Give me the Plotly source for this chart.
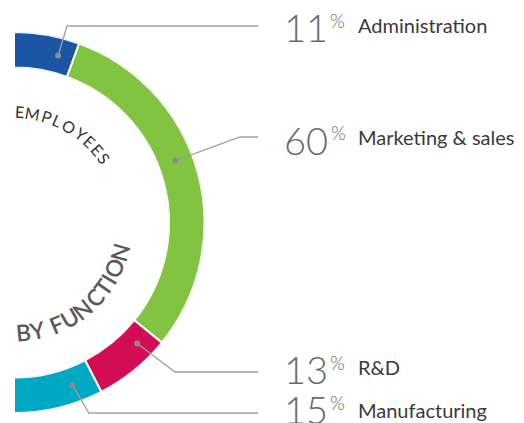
import numpy as np
import plotly.graph_objects as go

# data
functions = ['Administration', 'Marketing & sales', 'R&D', 'Manufacturing']
shares = [11, 60, 13, 15]
colors = ['#1b55a4', '#82c341', '#d30d55', '#00a8c3']

# the page puts the figure 8px in from the corner, so work in page pixels
OFF = 8
W, H = 524 - OFF, 423 - OFF
CX, CY = 14, 222.5        # ring centre in page pixels
R_OUT, R_IN = 190.5, 155


def px(x):
    return (x - OFF) / W


def py(y):
    return 1 - (y - OFF) / H


def on_ring(theta, r):
    t = np.radians(theta)
    return CX + r * np.sin(t), CY - r * np.cos(t)


# half ring: the shares are spread over 180 degrees, clockwise from 12 o'clock
vals = np.array(shares, dtype=float)
spans = vals / vals.sum() * 180
starts = np.concatenate([[0], np.cumsum(spans)[:-1]])
mids = starts + spans / 2

fig = go.Figure()
fig.add_trace(go.Barpolar(
    r=[1] * len(shares), theta=mids, width=spans,
    marker=dict(color=colors, line=dict(color='white', width=2)),
    hoverinfo='skip', showlegend=False,
))

fig.update_layout(
    width=W, height=H,
    margin=dict(l=0, r=0, t=0, b=0),
    paper_bgcolor='white',
    polar=dict(
        domain=dict(x=[px(CX), px(CX + R_OUT)], y=[py(CY + R_OUT), py(CY - R_OUT)]),
        sector=[-90, 90],
        hole=R_IN / R_OUT,
        bgcolor='rgba(0,0,0,0)',
        radialaxis=dict(range=[0, 1], visible=False),
        angularaxis=dict(rotation=90, direction='clockwise', visible=False),
    ),
)

# leader lines, dots and labels
anchor_theta = [14.8, 69, 134.5, 160.3]
elbows = [(67, 26), (240, 137), (175, 372), (89, 413)]
line_end = 258
num_y = [27, 140, 369, 409]
lab_y = [25, 137, 367, 410]
pct_x = [328, 329, 328, 328]

shapes = []
annotations = []
for i, name in enumerate(functions):
    dx, dy = on_ring(anchor_theta[i], (R_OUT + R_IN) / 2)
    ex, ey = elbows[i]
    shapes.append(dict(type='path', xref='paper', yref='paper', layer='above',
                       path=f'M {px(dx)},{py(dy)} L {px(ex)},{py(ey)} L {px(line_end)},{py(ey)}',
                       line=dict(color='#a0a0a0', width=1.3)))
    shapes.append(dict(type='circle', xref='paper', yref='paper', layer='above',
                       x0=px(dx - 3), x1=px(dx + 3), y0=py(dy + 3), y1=py(dy - 3),
                       fillcolor='#8c8c8c', line=dict(width=0)))
    annotations.append(dict(x=px(282), y=py(num_y[i]), xref='paper', yref='paper',
                            text=str(shares[i]), showarrow=False, xanchor='left', yanchor='middle',
                            font=dict(family='Lato', size=38, color='#6a6a6a', weight=300)))
    annotations.append(dict(x=px(pct_x[i]), y=py(num_y[i] - 7), xref='paper', yref='paper',
                            text='%', showarrow=False, xanchor='left', yanchor='middle',
                            font=dict(family='Lato', size=19, color='#6a6a6a', weight=300)))
    annotations.append(dict(x=px(356), y=py(lab_y[i]), xref='paper', yref='paper',
                            text=name, showarrow=False, xanchor='left', yanchor='middle',
                            font=dict(family='Lato', size=20, color='#3a3a3a')))

# curved captions inside the ring
widths = {'E': .55, 'M': .82, 'P': .6, 'L': .5, 'O': .78, 'Y': .6, 'S': .55, 'B': .62,
          ' ': .35, 'F': .55, 'U': .7, 'N': .74, 'C': .68, 'T': .58, 'I': .3}


def arc_text(word, t0, t1, r, size, color, weight, flip):
    w = np.array([widths[c] for c in word])
    pos = np.concatenate([[0], np.cumsum((w[:-1] + w[1:]) / 2)])
    thetas = t0 + (t1 - t0) * pos / pos[-1]
    for c, t in zip(word, thetas):
        if c == ' ':
            continue
        x, y = on_ring(t, r)
        annotations.append(dict(x=px(x), y=py(y), xref='paper', yref='paper', text=c,
                                showarrow=False, xanchor='center', yanchor='middle',
                                textangle=(t - 180) if flip else t,
                                font=dict(family='Lato', size=size, color=color, weight=weight)))


arc_text('EMPLOYEES', 2.6, 54.5, 111, 16, '#333333', 400, False)
arc_text('BY FUNCTION', 175, 105.7, 110, 23, '#5a5a5a', 600, True)

fig.update_layout(shapes=shapes, annotations=annotations)
fig.write_html('out.html')
